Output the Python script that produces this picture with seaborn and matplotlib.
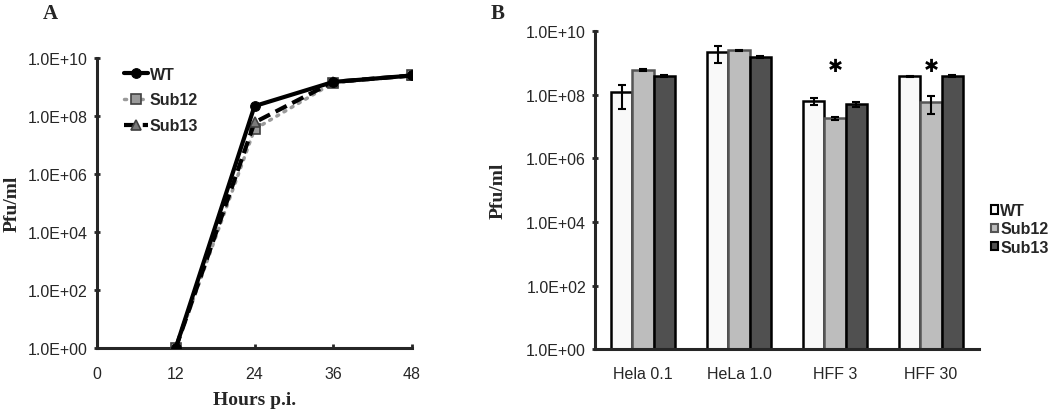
import numpy as np
import pandas as pd
import matplotlib
matplotlib.use("Agg")
import matplotlib.pyplot as plt
import matplotlib.ticker as mticker
from matplotlib.patches import Patch
import seaborn as sns

sns.set_style("ticks")
plt.rcParams['font.family'] = ['Liberation Sans', 'DejaVu Sans']

# panel A: growth curve
hours = [12, 24, 36, 48]
wt_curve = [1.0, 2.2e8, 1.5e9, 2.5e9]
sub12_curve = [1.0, 3.5e7, 1.4e9, 2.5e9]
sub13_curve = [1.0, 6.0e7, 1.5e9, 2.5e9]

# panel B: titres per cell line
cells = ["Hela 0.1", "HeLa 1.0", "HFF 3", "HFF 30"]
strains = ["WT", "Sub12", "Sub13"]
wt_bar = [1.2e8, 2.2e9, 6.3e7, 3.8e8]
sub12_bar = [5.9e8, 2.5e9, 1.8e7, 5.9e7]
sub13_bar = [3.8e8, 1.5e9, 5.0e7, 3.9e8]
wt_err = [8.5e7, 1.2e9, 1.5e7, 1.5e7]
sub12_err = [5e7, 1e8, 2e6, 3.5e7]
sub13_err = [3e7, 1e8, 8e6, 3e7]
star_cells = ["HFF 3", "HFF 30"]

sci = mticker.FuncFormatter(lambda v, p: f"{v:.1E}")
label_font = dict(family="Liberation Serif", fontweight="bold", fontsize=14)

fig = plt.figure(figsize=(10.5, 4.1), dpi=100)
ax1 = fig.add_axes([0.0924, 0.149, 0.300, 0.707])
ax2 = fig.add_axes([0.5667, 0.146, 0.3657, 0.7756])

# ---- A ----
ax1.set_yscale("log")
sns.lineplot(x=hours, y=wt_curve, ax=ax1, color="black", lw=3, marker="o",
             markersize=7, markeredgecolor="black", label="WT", zorder=4)
sns.lineplot(x=hours, y=sub12_curve, ax=ax1, color="#9a9a9a", lw=2.5, linestyle=(0, (0.6, 1.8)),
             dash_capstyle="round", marker="s", markersize=6.5, markerfacecolor="#9a9a9a",
             markeredgecolor="#404040", markeredgewidth=1.2, label="Sub12", zorder=3)
sns.lineplot(x=hours, y=sub13_curve, ax=ax1, color="black", lw=3, linestyle=(0, (3, 1.5)),
             marker="^", markersize=7, markerfacecolor="#7a7a7a", markeredgecolor="#404040",
             markeredgewidth=1.2, label="Sub13", zorder=3)
ax1.set_xlim(0, 48)
ax1.set_ylim(1, 1e10)
ax1.set_xticks([0, 12, 24, 36, 48])
ax1.set_yticks([1e0, 1e2, 1e4, 1e6, 1e8, 1e10])
ax1.yaxis.set_minor_locator(mticker.NullLocator())
ax1.yaxis.set_major_formatter(sci)
ax1.set_xlabel("Hours p.i.", **label_font)
ax1.set_ylabel("Pfu/ml", **label_font)
ax1.xaxis.set_label_coords(0.5, -0.15)
ax1.yaxis.set_label_coords(-0.244, 0.5)
ax1.legend(loc="upper left", bbox_to_anchor=(0.04, 1.02), frameon=False,
           handlelength=1.5, handletextpad=0.1, labelspacing=0.68,
           prop=dict(family="Liberation Sans", weight="bold", size=11.5))

# ---- B ----
bars = pd.DataFrame({
    "cell": cells * 3,
    "strain": np.repeat(strains, len(cells)),
    "value": wt_bar + sub12_bar + sub13_bar,
    "err": wt_err + sub12_err + sub13_err,
})
ax2.set_yscale("log")
bar_cols = ["#f9f9f9", "#bdbdbd", "#505050"]
edge_cols = ["black", "#555555", "black"]
sns.barplot(data=bars, x="cell", y="value", hue="strain", order=cells, hue_order=strains,
            palette=bar_cols, errorbar=None, width=0.67, ax=ax2, legend=False,
            linewidth=1.8, edgecolor="black", saturation=1)
for cont, ec, s in zip(ax2.containers, edge_cols, strains):
    sub = bars[bars.strain == s].set_index("cell").loc[cells]
    xs = [b.get_x() + b.get_width() / 2 for b in cont]
    for b in cont:
        b.set_edgecolor(ec)
    ax2.errorbar(xs, sub["value"], yerr=sub["err"], fmt="none", ecolor="black",
                 elinewidth=1.5, capsize=3, capthick=1.5, zorder=5)
    if s == "Sub12":
        for x, c in zip(xs, cells):
            if c in star_cells:
                ax2.text(x, 8e8, "✱", ha="center", va="center", fontsize=13,
                         family="DejaVu Sans", color="black")
ax2.set_xlim(-0.5, 3.5)
ax2.set_ylim(1, 1e10)
ax2.set_yticks([1e0, 1e2, 1e4, 1e6, 1e8, 1e10])
ax2.yaxis.set_minor_locator(mticker.NullLocator())
ax2.yaxis.set_major_formatter(sci)
ax2.set_xlabel("")
ax2.set_ylabel("Pfu/ml", **label_font)
ax2.yaxis.set_label_coords(-0.229, 0.5)
ax2.tick_params(axis="x", length=0, pad=12)
handles = [Patch(facecolor=c, edgecolor=e, linewidth=1.5) for c, e in zip(bar_cols, edge_cols)]
ax2.legend(handles, strains, loc="center left", bbox_to_anchor=(1.0146, 0.378), frameon=False,
           handlelength=0.42, handleheight=0.42, handletextpad=0.15, labelspacing=0.2,
           borderaxespad=0, borderpad=0.4,
           prop=dict(family="Liberation Sans", weight="bold", size=11.5))

for ax in (ax1, ax2):
    sns.despine(ax=ax)
    for sp in ("left", "bottom"):
        ax.spines[sp].set_linewidth(2.2)
    ax.tick_params(axis="y", direction="inout", length=5, width=2, labelsize=11.5, pad=4)
    ax.tick_params(axis="x", labelsize=11.5)
ax1.tick_params(axis="x", direction="in", length=3, width=2, pad=13)

fig.text(50 / 1050, 1 - 14 / 410, "A", family="Liberation Serif", fontweight="bold",
         fontsize=15, va="center", ha="center")
fig.text(498 / 1050, 1 - 14 / 410, "B", family="Liberation Serif", fontweight="bold",
         fontsize=15, va="center", ha="center")

fig.savefig("out.png", dpi=100)
